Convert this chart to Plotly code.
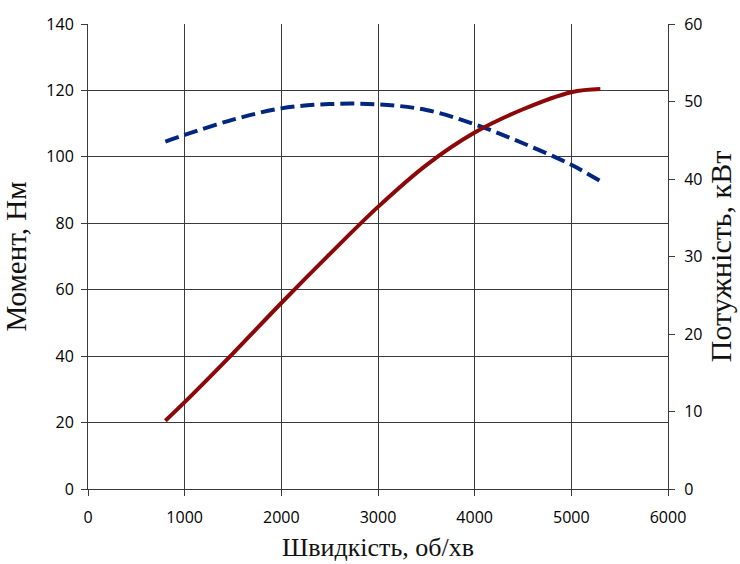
import plotly.graph_objects as go

rpm = [800, 1000, 1500, 2000, 2500, 3000, 3500, 4000, 4500, 5000, 5300]
torque_nm = [104.6, 106.6, 111.2, 114.6, 115.9, 115.8, 114.1, 109.8, 104.1, 97.6, 92.7]
power_kw = [8.8, 11.2, 17.5, 24.0, 30.3, 36.4, 41.8, 46.0, 49.0, 51.2, 51.6]

x_title = "Швидкість, об/хв"
y1_title = "Момент, Нм"
y2_title = "Потужність, кВт"

tick_font = dict(family="Open Sans", size=16, color="#000000")
grid_col = "#3a3a3a"

fig = go.Figure()
fig.add_trace(go.Scatter(x=rpm, y=torque_nm, mode="lines",
                         line=dict(color="#002680", width=4, dash="14px,6px", shape="spline"),
                         yaxis="y", showlegend=False))
fig.add_trace(go.Scatter(x=rpm, y=power_kw, mode="lines",
                         line=dict(color="#8c0808", width=4, shape="spline"),
                         yaxis="y2", showlegend=False))

fig.update_layout(
    width=740, height=564,
    margin=dict(l=88, r=72, t=24, b=75),
    paper_bgcolor="white", plot_bgcolor="white",
    xaxis=dict(range=[0, 6000], dtick=1000, showgrid=True, gridcolor=grid_col, gridwidth=1,
               showline=True, linecolor=grid_col, linewidth=1, ticks="outside", ticklen=6, tickcolor=grid_col,
               tickfont=tick_font, zeroline=False, ticklabelstandoff=8, automargin=False,
               title=dict(text=x_title, font=dict(family="Liberation Serif", size=26, color="#111111"), standoff=10)),
    yaxis=dict(range=[0, 140], dtick=20, showgrid=True, gridcolor=grid_col, gridwidth=1,
               showline=True, linecolor=grid_col, linewidth=1, ticks="outside", ticklen=6, tickcolor=grid_col,
               tickfont=tick_font, zeroline=False, ticklabelstandoff=4, automargin=False,
               title=dict(text=y1_title, font=dict(family="Liberation Serif", size=29, color="#111111"), standoff=12)),
    yaxis2=dict(range=[0, 60], dtick=10, overlaying="y", side="right", showgrid=False,
                showline=True, linecolor=grid_col, linewidth=1, ticks="outside", ticklen=6, tickcolor=grid_col,
                tickfont=tick_font, zeroline=False, ticklabelstandoff=6, automargin=False,
                title=dict(text=y2_title, font=dict(family="Liberation Serif", size=30, color="#111111"), standoff=8)),
)

fig.write_html("out.html")
